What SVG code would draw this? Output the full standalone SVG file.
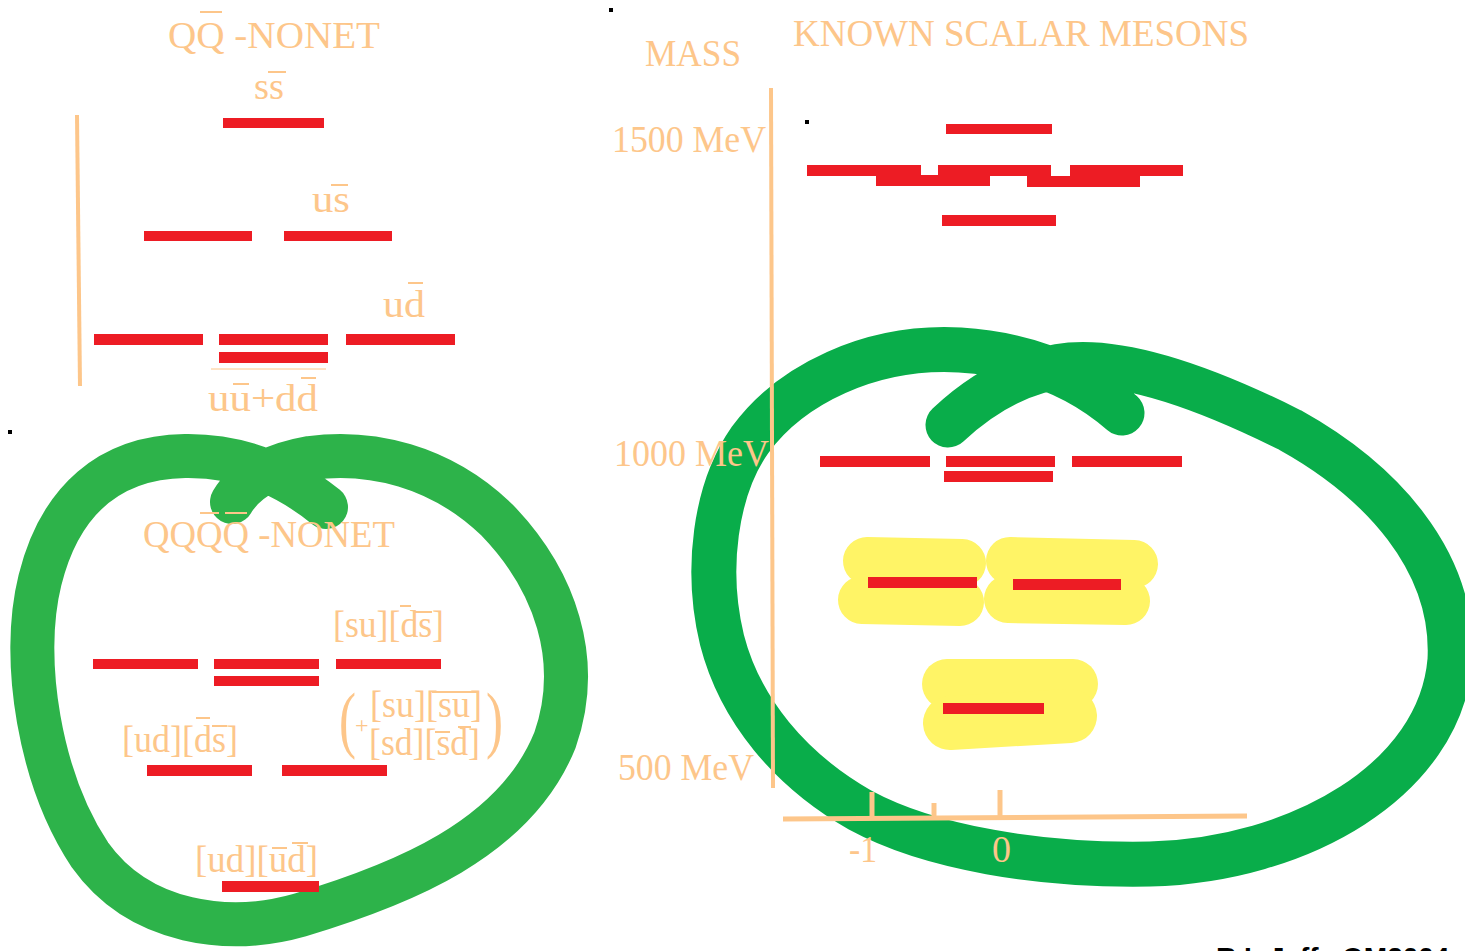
<svg xmlns="http://www.w3.org/2000/svg" width="1465" height="951" viewBox="0 0 1465 951">
  <style>
    .lbl { font-family: "Liberation Serif", "Times New Roman", serif; font-size: 38px; fill: #FDC68A; }
    .bar { stroke: #FDC68A; stroke-width: 2; }
    .lvl { fill: #ED1C24; }
    .axis { stroke: #FDC68A; fill: none; }
    .loop { fill: none; stroke-linecap: round; stroke-linejoin: round; }
    .hl { fill: none; stroke: #FFF466; stroke-linecap: round; }
    .dot { fill: #000; }
  </style>
  <rect width="1465" height="951" fill="#fff"/>

  <!-- hand-drawn annotation loops -->
  <g id="annotations">
    <path class="loop" stroke="#2DB34A" stroke-width="44" d="M 326 507 C 295 482, 250 455, 185 456 C 110 457, 60 500, 40 580 C 20 660, 40 780, 90 855 C 140 925, 230 935, 300 915 C 400 885, 515 840, 555 740 C 583 660, 555 580, 497 520 C 440 465, 370 450, 310 458 C 270 465, 245 480, 232 502"/>
    <path class="loop" stroke="#09AD4A" stroke-width="45" d="M 1122 413 C 1090 385, 1040 355, 960 350 C 870 345, 790 385, 750 440 C 715 490, 705 570, 722 640 C 740 710, 790 770, 860 810 C 930 848, 1040 866, 1150 864 C 1300 860, 1440 780, 1450 660 C 1455 560, 1380 480, 1290 430 C 1210 390, 1130 360, 1070 365 C 1020 370, 980 395, 948 425"/>
    <!-- highlighted light states -->
    <path class="hl" stroke-width="48" d="M 867 561 L 962 563 M 862 600 L 960 602"/>
    <path class="hl" stroke-width="48" d="M 1010 561 L 1134 564 M 1008 599 L 1126 601"/>
    <path class="hl" stroke-width="50" d="M 947 684 L 1073 684"/>
    <path class="hl" stroke-width="54" d="M 950 723 L 1070 716"/>
  </g>

  <!-- q-qbar nonet -->
  <g id="qqbar-nonet">
    <text class="lbl" x="168" y="48" textLength="212" lengthAdjust="spacingAndGlyphs">QQ -NONET</text>
    <line class="bar" x1="200" y1="12" x2="222" y2="12"/>
    <line class="axis" x1="77" y1="115" x2="80" y2="386" stroke-width="4"/>
  </g>
  <g id="level-ss">
    <text class="lbl" x="254" y="99" textLength="30" lengthAdjust="spacingAndGlyphs">ss</text>
    <line class="bar" x1="268" y1="72" x2="286" y2="72"/>
    <rect class="lvl" x="223" y="118" width="101" height="10"/>
  </g>
  <g id="level-us">
    <text class="lbl" x="312" y="212" textLength="38" lengthAdjust="spacingAndGlyphs">us</text>
    <line class="bar" x1="331" y1="185" x2="348" y2="185"/>
    <rect class="lvl" x="144" y="231" width="108" height="10"/>
    <rect class="lvl" x="284" y="231" width="108" height="10"/>
  </g>
  <g id="level-ud">
    <text class="lbl" x="383" y="317" textLength="42" lengthAdjust="spacingAndGlyphs">ud</text>
    <line class="bar" x1="408" y1="283" x2="423" y2="283"/>
    <rect class="lvl" x="94" y="334" width="109" height="11"/>
    <rect class="lvl" x="219" y="334" width="109" height="11"/>
    <rect class="lvl" x="219" y="352" width="109" height="11"/>
    <rect class="lvl" x="346" y="334" width="109" height="11"/>
    <line x1="211" y1="369" x2="326" y2="369" stroke="#FDC68A" stroke-width="1"/>
    <text class="lbl" x="208" y="411" textLength="110" lengthAdjust="spacingAndGlyphs">uu+dd</text>
    <line class="bar" x1="233" y1="384" x2="249" y2="384"/>
    <line class="bar" x1="301" y1="378" x2="316" y2="378"/>
  </g>

  <!-- diquark-antidiquark nonet -->
  <g id="qqqq-nonet">
    <text class="lbl" x="143" y="547" textLength="252" lengthAdjust="spacingAndGlyphs">QQQQ -NONET</text>
    <line class="bar" x1="200" y1="513" x2="219" y2="513"/>
    <line class="bar" x1="225" y1="513" x2="247" y2="513"/>
  </g>
  <g id="level-su-ds">
    <text class="lbl" x="333" y="637" textLength="111" lengthAdjust="spacingAndGlyphs">[su][ds]</text>
    <line class="bar" x1="400" y1="606" x2="411" y2="606"/>
    <line class="bar" x1="414" y1="612" x2="432" y2="612"/>
    <rect class="lvl" x="93" y="659" width="105" height="10"/>
    <rect class="lvl" x="214" y="659" width="105" height="10"/>
    <rect class="lvl" x="214" y="676" width="105" height="10"/>
    <rect class="lvl" x="336" y="659" width="105" height="10"/>
  </g>
  <g id="level-ud-ds">
    <text class="lbl" x="122" y="752" textLength="116" lengthAdjust="spacingAndGlyphs">[ud][ds]</text>
    <line class="bar" x1="196" y1="718" x2="210" y2="718"/>
    <line class="bar" x1="212" y1="726" x2="227" y2="726"/>
    <rect class="lvl" x="147" y="765" width="105" height="11"/>
    <rect class="lvl" x="282" y="765" width="105" height="11"/>
    <text class="lbl" x="339" y="744" style="font-size:73px" textLength="17" lengthAdjust="spacingAndGlyphs">(</text>
    <text class="lbl" x="355" y="733" style="font-size:24px">+</text>
    <text class="lbl" x="370" y="717" textLength="112" lengthAdjust="spacingAndGlyphs">[su][su]</text>
    <line class="bar" x1="432" y1="692" x2="477" y2="692"/>
    <text class="lbl" x="369" y="755" textLength="111" lengthAdjust="spacingAndGlyphs">[sd][sd]</text>
    <line class="bar" x1="435" y1="732" x2="450" y2="732"/>
    <line class="bar" x1="458" y1="727" x2="471" y2="727"/>
    <text class="lbl" x="486" y="744" style="font-size:73px" textLength="17" lengthAdjust="spacingAndGlyphs">)</text>
  </g>
  <g id="level-ud-ud">
    <text class="lbl" x="195" y="872" textLength="123" lengthAdjust="spacingAndGlyphs">[ud][ud]</text>
    <line class="bar" x1="272" y1="848" x2="287" y2="848"/>
    <line class="bar" x1="292" y1="843" x2="308" y2="843"/>
    <rect class="lvl" x="222" y="881" width="97" height="11"/>
  </g>

  <!-- known scalar mesons on a mass scale -->
  <g id="mass-axis">
    <text class="lbl" x="645" y="66" textLength="96" lengthAdjust="spacingAndGlyphs">MASS</text>
    <text class="lbl" x="612" y="152" textLength="154" lengthAdjust="spacingAndGlyphs">1500 MeV</text>
    <text class="lbl" x="618" y="780" textLength="136" lengthAdjust="spacingAndGlyphs">500 MeV</text>
    <line class="axis" x1="771" y1="88" x2="773" y2="788" stroke-width="4"/>
    <line class="axis" x1="783" y1="819" x2="1247" y2="816" stroke-width="5"/>
    <line class="axis" x1="872" y1="792" x2="872" y2="818" stroke-width="5"/>
    <line class="axis" x1="934" y1="803" x2="934" y2="816" stroke-width="5"/>
    <line class="axis" x1="1000" y1="790" x2="1000" y2="816" stroke-width="5"/>
    <text class="lbl" x="849" y="862" textLength="28" lengthAdjust="spacingAndGlyphs">-1</text>
    <text class="lbl" x="992" y="862">0</text>
  </g>
  <g id="known-mesons">
    <text class="lbl" x="793" y="46" textLength="456" lengthAdjust="spacingAndGlyphs">KNOWN SCALAR MESONS</text>
  </g>
  <g id="heavy-states">
    <rect class="lvl" x="946" y="124" width="106" height="10"/>
    <rect class="lvl" x="807" y="165" width="114" height="11"/>
    <rect class="lvl" x="876" y="175" width="114" height="11"/>
    <rect class="lvl" x="938" y="165" width="113" height="11"/>
    <rect class="lvl" x="1027" y="176" width="113" height="11"/>
    <rect class="lvl" x="1070" y="165" width="113" height="11"/>
    <rect class="lvl" x="942" y="215" width="114" height="11"/>
  </g>
  <g id="states-1000">
    <text class="lbl" x="614" y="466" textLength="155" lengthAdjust="spacingAndGlyphs">1000 MeV</text>
    <rect class="lvl" x="820" y="456" width="110" height="11"/>
    <rect class="lvl" x="946" y="456" width="109" height="11"/>
    <rect class="lvl" x="1072" y="456" width="110" height="11"/>
    <rect class="lvl" x="944" y="471" width="109" height="11"/>
  </g>
  <g id="light-states">
    <rect class="lvl" x="868" y="577" width="109" height="11"/>
    <rect class="lvl" x="1013" y="579" width="108" height="11"/>
    <rect class="lvl" x="943" y="703" width="101" height="11"/>
  </g>

  <g id="marks">
    <rect class="dot" x="8" y="430" width="4" height="4"/>
    <rect class="dot" x="609" y="8" width="4" height="4"/>
    <rect class="dot" x="805" y="120" width="4" height="4"/>
  </g>
  <text x="1216" y="967" font-family="Liberation Sans, Arial, sans-serif" font-weight="bold" font-size="28" fill="#000">R.L.Jaffe QM2004</text>
</svg>
